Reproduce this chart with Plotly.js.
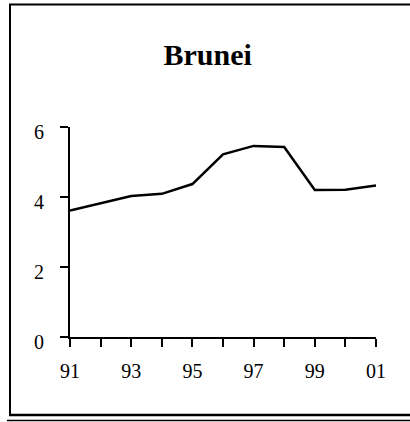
<!DOCTYPE html>
<html>
<head>
<meta charset="utf-8">
<script src="https://cdn.plot.ly/plotly-3.0.1.min.js"></script>
<style>
html,body{margin:0;padding:0;background:#fff;}
#chart{width:410px;height:422px;}
</style>
</head>
<body>
<div id="chart"></div>
<script>
var years = [1991,1992,1993,1994,1995,1996,1997,1998,1999,2000,2001];
var values = [3.61,3.82,4.03,4.09,4.37,5.22,5.46,5.43,4.20,4.21,4.33];
var xTickVals = [1991,1993,1995,1997,1999,2001];
var xTickText = ['91','93','95','97','99','01'];
var yTickVals = [0,2,4,6];
var titleText = 'Brunei';

var L = 70, R = 34, T = 127, B = 85, W = 410 - L - R, H = 422 - T - B;
function px(p){ return (p - L) / W; }
function py(p){ return (T + H - p) / H; }

var font = 'Liberation Serif, Times New Roman, serif';

var trace = {
  x: years, y: values, type: 'scatter', mode: 'lines',
  line: {color: '#000', width: 2.5}, hoverinfo: 'none', showlegend: false
};

var layout = {
  width: 410, height: 422,
  margin: {l: L, r: R, t: T, b: B, pad: 0},
  paper_bgcolor: '#fff', plot_bgcolor: '#fff',
  font: {family: font, color: '#000', size: 20},
  title: {text: titleText, font: {family: font, size: 30, weight: 'bold', color: '#000'},
          xref: 'container', x: 207.7/410, xanchor: 'center',
          yref: 'container', y: 1 - 54/422, yanchor: 'middle'},
  xaxis: {range: [1991, 2001], tickvals: years, ticktext: years.map(function(y){
            var i = xTickVals.indexOf(y); return i >= 0 ? xTickText[i] : ''; }),
          showgrid: false, zeroline: false, showline: true, linecolor: '#000', linewidth: 2,
          ticks: 'outside', ticklen: 8, tickwidth: 2, tickcolor: '#000',
          ticklabelstandoff: 7, tickfont: {family: font, size: 20, color: '#000'}},
  yaxis: {range: [0, 6], tickvals: yTickVals, ticktext: yTickVals.map(String),
          showgrid: false, zeroline: false, showline: true, linecolor: '#000', linewidth: 2,
          ticks: 'outside', ticklen: 8, tickwidth: 2, tickcolor: '#000',
          ticklabelstandoff: 12, ticklabelshift: 5,
          tickfont: {family: font, size: 20, color: '#000'}},
  shapes: [
    {type: 'line', xref: 'paper', yref: 'paper', x0: px(10), x1: px(10), y0: py(4), y1: py(415), line: {color: '#000', width: 2}},
    {type: 'line', xref: 'paper', yref: 'paper', x0: px(9), x1: px(412), y0: py(4.5), y1: py(4.5), line: {color: '#000', width: 2}},
    {type: 'line', xref: 'paper', yref: 'paper', x0: px(9), x1: px(412), y0: py(415), y1: py(415), line: {color: '#000', width: 2.5}},
    {type: 'line', xref: 'paper', yref: 'paper', x0: px(7), x1: px(412), y0: py(420.5), y1: py(420.5), line: {color: '#000', width: 1.5}}
  ]
};

Plotly.newPlot('chart', [trace], layout, {displayModeBar: false, staticPlot: true});
</script>
</body>
</html>
